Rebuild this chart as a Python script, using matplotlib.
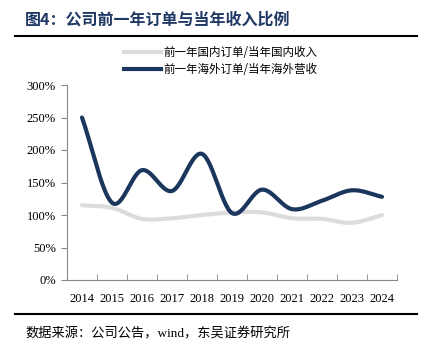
import numpy as np
import matplotlib.pyplot as plt
from matplotlib.lines import Line2D

plt.rcParams['font.family'] = ['Liberation Serif', 'Noto Sans CJK SC']

years = ['2014', '2015', '2016', '2017', '2018', '2019', '2020', '2021', '2022', '2023', '2024']
domestic = [115, 111, 94, 95, 100, 104, 104, 95, 94, 88, 100]
overseas = [250, 119, 169, 137, 194, 103, 139, 109, 122, 138, 128]
label_dom = '前一年国内订单/当年国内收入'
label_ovs = '前一年海外订单/当年海外营收'

dark = '#1B365D'
light = '#DCDCDC'


def smooth(y, per=30):
    # Catmull-Rom style smoothing, like Excel's smoothed line
    y = np.asarray(y, float)
    x = np.arange(len(y), dtype=float)
    px = np.concatenate([[2 * x[0] - x[1]], x, [2 * x[-1] - x[-2]]])
    py = np.concatenate([[2 * y[0] - y[1]], y, [2 * y[-1] - y[-2]]])
    xs, ys = [], []
    t = np.linspace(0, 1, per, endpoint=False)
    for i in range(1, len(px) - 2):
        p0x, p1x, p2x, p3x = px[i - 1:i + 3]
        p0y, p1y, p2y, p3y = py[i - 1:i + 3]
        b1x, b1y = p1x + (p2x - p0x) / 6, p1y + (p2y - p0y) / 6
        b2x, b2y = p2x - (p3x - p1x) / 6, p2y - (p3y - p1y) / 6
        xs.append((1 - t) ** 3 * p1x + 3 * (1 - t) ** 2 * t * b1x + 3 * (1 - t) * t ** 2 * b2x + t ** 3 * p2x)
        ys.append((1 - t) ** 3 * p1y + 3 * (1 - t) ** 2 * t * b1y + 3 * (1 - t) * t ** 2 * b2y + t ** 3 * p2y)
    xs.append([x[-1]])
    ys.append([y[-1]])
    return np.concatenate(xs), np.concatenate(ys)


fig = plt.figure(figsize=(4.34, 3.51), dpi=100)
ax = fig.add_axes([67 / 434, 1 - 280 / 351, 330 / 434, 195 / 351])

xd, yd = smooth(domestic)
xo, yo = smooth(overseas)
ax.plot(xd, yd, color=light, lw=3, solid_capstyle='round')
ax.plot(xo, yo, color=dark, lw=3, solid_capstyle='round')

ax.set_xlim(-0.5, len(years) - 0.5)
ax.set_ylim(0, 300)
ax.set_yticks(np.arange(0, 301, 50))
ax.set_yticklabels([f'{v}%' for v in range(0, 301, 50)], fontsize=9)
ax.set_xticks(np.arange(len(years)))
ax.set_xticklabels(years, fontsize=9)
ax.set_xticks(np.arange(len(years) + 1) - 0.5, minor=True)
ax.tick_params(axis='x', which='major', length=0, pad=9)
ax.tick_params(axis='x', which='minor', length=4, direction='in', color='#888888')
ax.tick_params(axis='y', length=4, direction='out', color='#888888', pad=4)
for s in ['top', 'right']:
    ax.spines[s].set_visible(False)
for s in ['left', 'bottom']:
    ax.spines[s].set_color('#888888')
    ax.spines[s].set_linewidth(0.8)

handles = [Line2D([0], [0], color=light, lw=3), Line2D([0], [0], color=dark, lw=3)]
fig.legend(handles, [label_dom, label_ovs], loc='center', bbox_to_anchor=(221 / 434, 1 - 61 / 351),
           frameon=False, handlelength=3.2, handletextpad=0.2, labelspacing=0.3,
           prop={'family': ['Noto Sans CJK SC'], 'size': 8.3})

fig.text(25 / 434, 1 - 20 / 351, '图4：公司前一年订单与当年收入比例', fontsize=11.5, fontweight='bold',
         color='#1F3864', va='center', family=['Noto Sans CJK SC'])
fig.add_artist(Line2D([15 / 434, 417 / 434], [1 - 36 / 351] * 2, color='black', lw=1.5))
fig.add_artist(Line2D([15 / 434, 417 / 434], [1 - 314 / 351] * 2, color='black', lw=1.5))
fig.text(25 / 434, 1 - 334 / 351, '数据来源：公司公告，wind，东吴证券研究所', fontsize=9.5,
         va='center', family=['Liberation Serif', 'Noto Sans CJK SC'])

fig.savefig('out.png', dpi=100)
